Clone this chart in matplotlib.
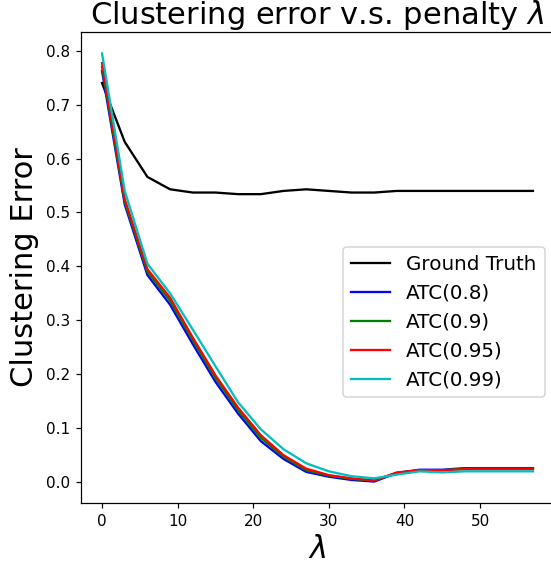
import numpy as np
import matplotlib
matplotlib.use("Agg")
import matplotlib.pyplot as plt

# penalty values
lambdas = np.arange(0, 58, 3)

# clustering error per method
ground_truth = [0.740, 0.631, 0.566, 0.543, 0.537, 0.537, 0.534, 0.534, 0.540, 0.543,
                0.540, 0.537, 0.537, 0.540, 0.540, 0.540, 0.540, 0.540, 0.540, 0.540]
atc_080 = [0.762, 0.515, 0.384, 0.329, 0.256, 0.186, 0.127, 0.076, 0.043, 0.019,
           0.010, 0.004, 0.001, 0.017, 0.023, 0.023, 0.026, 0.026, 0.026, 0.026]
atc_090 = [0.770, 0.520, 0.390, 0.336, 0.263, 0.193, 0.133, 0.082, 0.047, 0.022,
           0.012, 0.006, 0.003, 0.017, 0.022, 0.022, 0.025, 0.025, 0.025, 0.025]
atc_095 = [0.777, 0.525, 0.395, 0.342, 0.268, 0.198, 0.138, 0.087, 0.050, 0.025,
           0.013, 0.007, 0.003, 0.018, 0.022, 0.022, 0.024, 0.024, 0.024, 0.024]
atc_099 = [0.795, 0.540, 0.405, 0.350, 0.283, 0.215, 0.148, 0.098, 0.061, 0.035,
           0.020, 0.011, 0.007, 0.014, 0.020, 0.018, 0.020, 0.020, 0.020, 0.020]

labels = ['Ground Truth', 'ATC(0.8)', 'ATC(0.9)', 'ATC(0.95)', 'ATC(0.99)']
colors = ['k', 'b', 'g', 'r', 'c']

dpi = 110
fig = plt.figure(figsize=(551 / dpi, 565 / dpi), dpi=dpi)
ax = fig.add_axes([80.5 / 551, 62 / 565, 474 / 551, 471 / 565])

for ys, lab, col in zip([ground_truth, atc_080, atc_090, atc_095, atc_099], labels, colors):
    ax.plot(lambdas, ys, color=col, label=lab)

ax.set_title(r'Clustering error v.s. penalty $\lambda$', fontsize=20, pad=3)
ax.set_xlabel(r'$\lambda$', fontsize=20)
ax.set_ylabel('Clustering Error', fontsize=20)
ax.legend(loc='center right', bbox_to_anchor=(1, 0.384), fontsize=13)

fig.savefig('out.png', dpi=dpi)
